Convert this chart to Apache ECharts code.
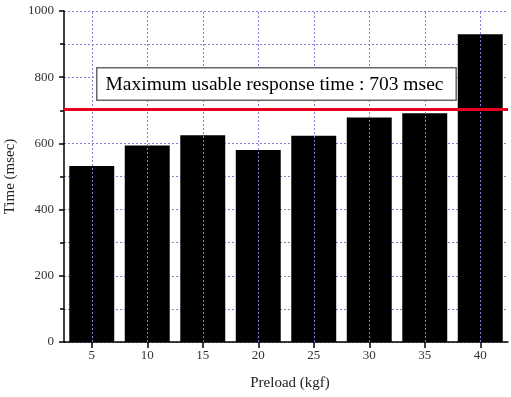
<!DOCTYPE html>
<html>
<head>
<meta charset="utf-8">
<style>
html,body{margin:0;padding:0;background:#fff;}
#chart{width:511px;height:397px;}
</style>
<script src="https://cdn.jsdelivr.net/npm/echarts@6/dist/echarts.min.js"></script>
</head>
<body>
<div id="chart"></div>
<script>
var categories = ['5', '10', '15', '20', '25', '30', '35', '40'];
var responseTime = [532, 594, 625, 580, 623, 678, 691, 930];
var maxUsable = 703;
var yTicks = [0, 200, 400, 600, 800, 1000];
var annotation = 'Maximum usable response time : 703 msec';

var serif = '"Liberation Serif", "Times New Roman", serif';
var gridColor = '#8080dc';

var chart = echarts.init(document.getElementById('chart'), null, {renderer: 'canvas'});
chart.setOption({
  animation: false,
  backgroundColor: '#fff',
  grid: {left: 64, right: 3, top: 11, bottom: 55, containLabel: false, outerBoundsMode: 'none'},
  xAxis: {
    type: 'category',
    data: categories,
    name: 'Preload (kgf)',
    nameLocation: 'middle',
    nameGap: 34,
    nameTextStyle: {fontFamily: serif, fontSize: 15, color: '#222', padding: [0, 0, 0, 8]},
    axisLine: {show: true, lineStyle: {color: '#000', width: 1.5}},
    axisTick: {show: true, alignWithLabel: true, length: 6, lineStyle: {color: '#000', width: 1.5}},
    axisLabel: {fontFamily: serif, fontSize: 13, color: '#333', margin: 7},
    splitLine: {show: false}
  },
  yAxis: {
    type: 'value',
    min: yTicks[0],
    max: yTicks[yTicks.length - 1],
    interval: 200,
    name: 'Time (msec)',
    nameLocation: 'middle',
    nameGap: 41,
    nameTextStyle: {fontFamily: serif, fontSize: 15, color: '#222'},
    axisLine: {show: true, lineStyle: {color: '#000', width: 1.5}},
    axisTick: {show: true, inside: false, length: 5, lineStyle: {color: '#000', width: 1.5}},
    minorTick: {show: true, splitNumber: 2, length: 4, lineStyle: {color: '#000', width: 1.5}},
    axisLabel: {fontFamily: serif, fontSize: 13, color: '#333', margin: 10, formatter: function (v) { return String(v); }},
    splitLine: {show: true, lineStyle: {color: gridColor, type: [2, 2], width: 1}},
    minorSplitLine: {show: true, lineStyle: {color: gridColor, type: [2, 2], width: 1}}
  },
  series: [
    {
      type: 'line',
      data: [],
      z: 1,
      silent: true,
      markLine: {
        silent: true,
        symbol: 'none',
        label: {show: false},
        lineStyle: {color: gridColor, type: [2, 2], width: 1},
        data: categories.map(function (c) { return {xAxis: c}; })
      }
    },
    {
      type: 'bar',
      data: responseTime,
      barCategoryGap: '19%',
      z: 2,
      itemStyle: {color: '#000'},
      markLine: {
        silent: true,
        symbol: 'none',
        label: {show: false},
        z: 5,
        lineStyle: {color: '#e8001c', type: 'solid', width: 3},
        data: [{yAxis: maxUsable}]
      }
    }
  ],
  graphic: [
    {
      type: 'text',
      left: 96,
      top: 67,
      z: 10,
      style: {
        text: annotation,
        fontFamily: serif,
        fontSize: 19.5,
        fill: '#000',
        backgroundColor: '#fff',
        borderColor: '#666',
        borderWidth: 1.5,
        padding: [6, 12, 5, 8]
      }
    }
  ]
});
</script>
</body>
</html>
